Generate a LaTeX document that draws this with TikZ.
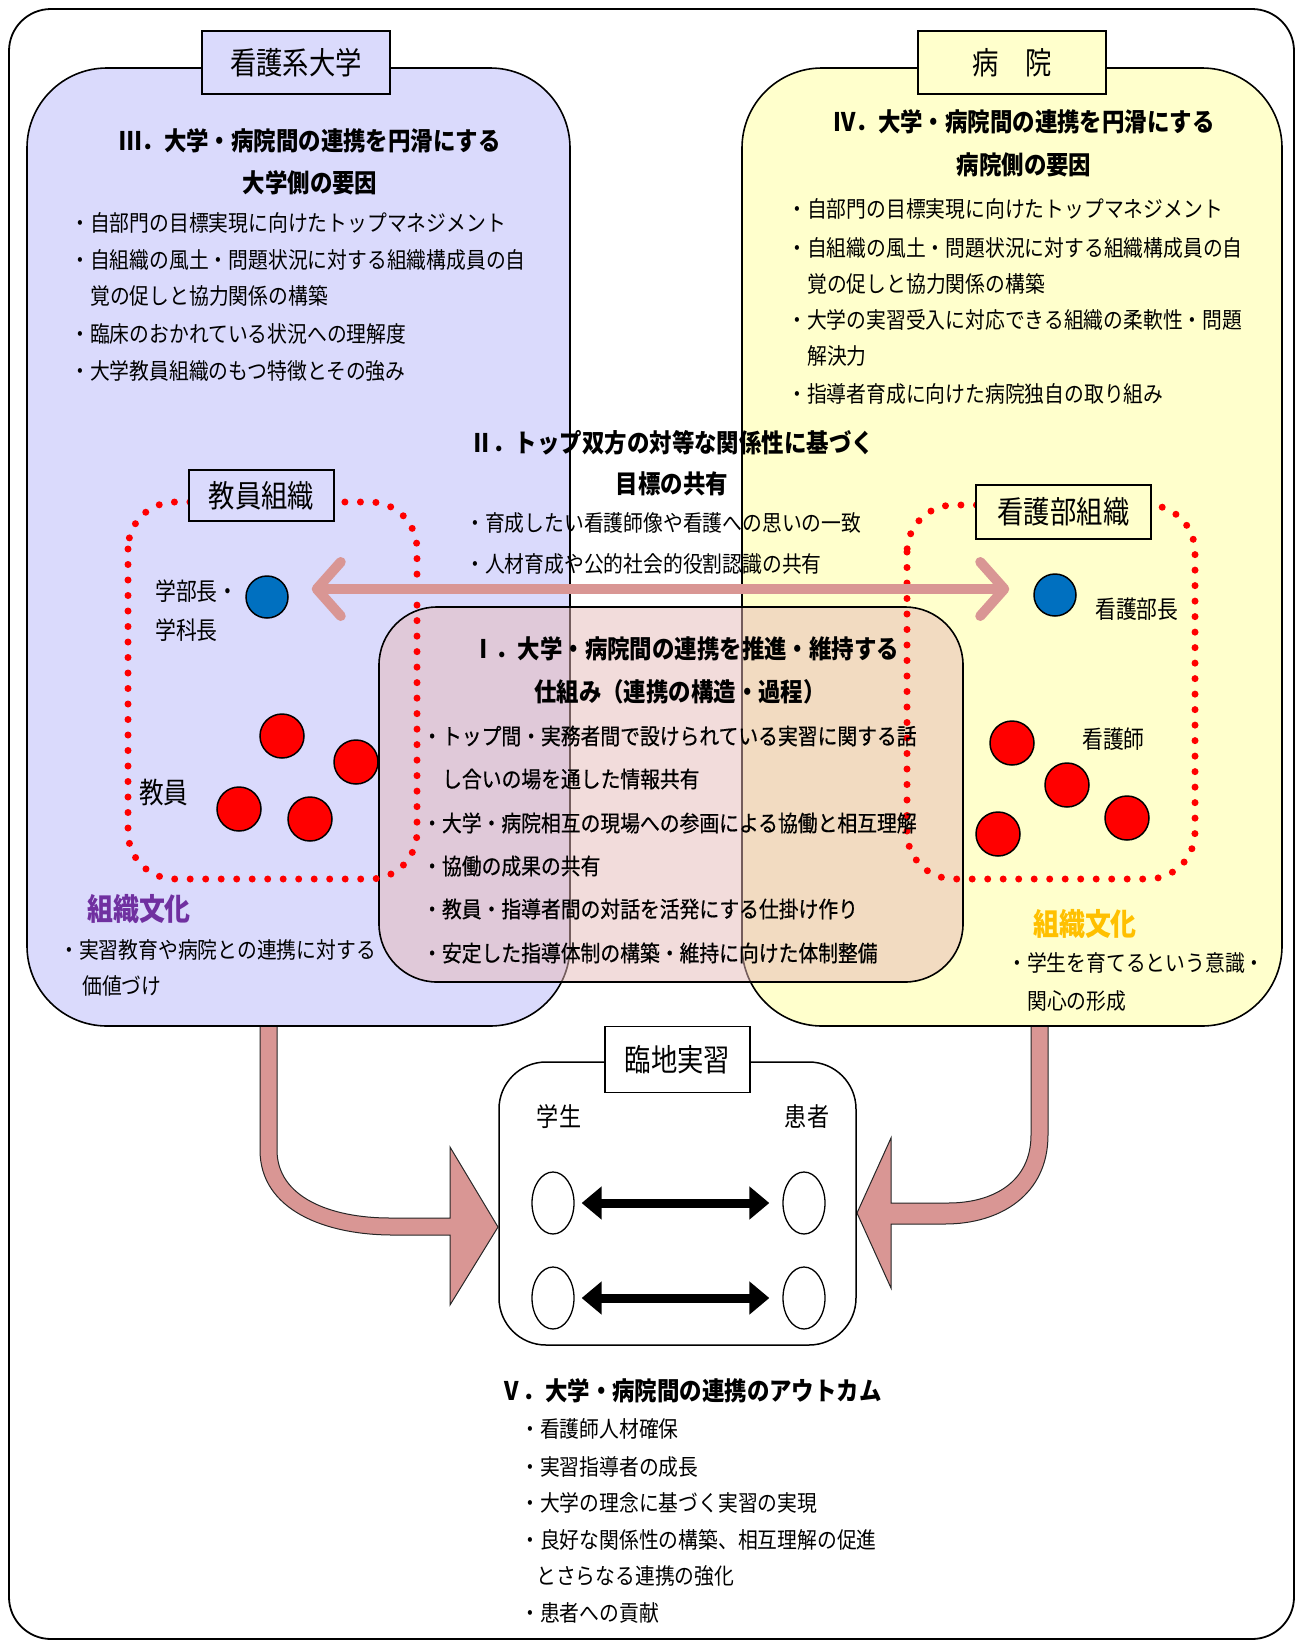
\documentclass[tikz,border=0pt]{standalone}
\usepackage{fontspec}
\newfontfamily\jp[FakeStretch=0.88]{Noto Sans CJK JP}
\newfontfamily\jpt[FakeStretch=0.85]{Noto Sans CJK JP}
\newfontfamily\jpm[FakeStretch=0.88,FakeBold=0.6]{Noto Sans CJK JP}
\usetikzlibrary{arrows.meta,calc,shapes.geometric}
\definecolor{lav}{RGB}{218,218,252}
\definecolor{ylw}{RGB}{255,255,204}
\definecolor{pinkI}{RGB}{230,185,184}
\definecolor{pinkA}{RGB}{217,150,148}
\definecolor{purp}{RGB}{112,48,160}
\definecolor{gold}{RGB}{255,192,0}
\definecolor{blueC}{RGB}{0,112,192}
\begin{document}
\begin{tikzpicture}[x=1pt,y=-1pt,
  body/.style={inner sep=0pt, anchor=west, font=\jp\fontsize{22.5pt}{22.5pt}\selectfont},
  bodym/.style={inner sep=0pt, anchor=west, font=\jpm\fontsize{22.5pt}{22.5pt}\selectfont},
  head/.style={inner sep=0pt, font=\jp\bfseries\fontsize{25.5pt}{25.5pt}\selectfont},
  titlebox/.style={draw, line width=1.6pt, inner sep=0pt, font=\jpt\fontsize{31pt}{31pt}\selectfont},
  lbl/.style={inner sep=0pt, font=\jpt\fontsize{24.5pt}{24.5pt}\selectfont},
  culture/.style={inner sep=0pt, anchor=west, font=\jpt\bfseries\fontsize{30.5pt}{30.5pt}\selectfont},
  dotline/.style={draw=red, line width=7pt, line cap=round, dash pattern=on 0pt off 15.5pt},
  bluedot/.style={circle, draw, line width=1.5pt, fill=blueC, minimum size=42pt, inner sep=0pt},
  reddot/.style={circle, draw, line width=1.5pt, fill=red, minimum size=44pt, inner sep=0pt},
  oval/.style={ellipse, draw, line width=1.3pt, fill=white, minimum width=42pt, minimum height=62pt, inner sep=0pt},
  bentarrow/.style={fill=pinkA, draw=black!85, line width=1pt, line join=miter},
]
\useasboundingbox (0,0) rectangle (1297,1641);

% outer frame
\draw[line width=1.8pt, rounded corners=42pt] (9,9) rectangle (1294,1639);

% bent arrows (behind the boxes)
\path[bentarrow] (260,1015) -- (260,1150) .. controls (260,1210) and (325,1235) .. (393,1235)
  -- (450,1235) -- (450,1305) -- (498,1227) -- (450,1147) -- (450,1218) -- (390,1218)
  .. controls (330,1218) and (277,1197) .. (277,1150) -- (277,1015) -- cycle;
\path[bentarrow] (1048,1015) -- (1048,1135) .. controls (1048,1195) and (1000,1224) .. (945,1224)
  -- (891,1224) -- (891,1288) -- (857,1213) -- (891,1138) -- (891,1203) -- (948,1203)
  .. controls (993,1203) and (1031,1182) .. (1031,1135) -- (1031,1015) -- cycle;

% big boxes
\draw[fill=lav, line width=1.6pt, rounded corners=80pt] (27,68) rectangle (570,1026);
\draw[fill=ylw, line width=1.6pt, rounded corners=80pt] (742,68) rectangle (1282,1026);
\node[titlebox, fill=lav, minimum width=188pt, minimum height=63pt] (tuniv) at (296,62.5) {看護系大学};
\node[titlebox, fill=ylw, minimum width=188pt, minimum height=63pt] (thosp) at (1012,62.5) {病　院};

% central box I
\draw[fill=pinkI, fill opacity=0.5, line width=1.6pt, rounded corners=58pt] (379,607) rectangle (963,982);

% dotted organisation frames
\draw[dotline, rounded corners=47pt] (128,502) rectangle (417,879);
\draw[dotline, rounded corners=47pt] (907,505) rectangle (1195,879);
\node[titlebox, line width=1.4pt, fill=lav, minimum width=145pt, minimum height=51pt] (tfac) at (261.5,495.5) {教員組織};
\node[titlebox, line width=1.4pt, fill=ylw, minimum width=175pt, minimum height=54pt] (tnurse) at (1063.5,512) {看護部組織};

% circles
\node[bluedot] (bl) at (267,597) {};
\node[bluedot] (br) at (1055,595) {};
\node[reddot] (rl1) at (282,736) {};
\node[reddot] (rl2) at (356,762) {};
\node[reddot] (rl3) at (239,809) {};
\node[reddot] (rl4) at (310,819) {};
\node[reddot] (rr1) at (1012,743) {};
\node[reddot] (rr2) at (1067,785) {};
\node[reddot] (rr3) at (998,834) {};
\node[reddot] (rr4) at (1127,818) {};

% pink double arrow between the tops
\draw[pinkA, line width=10pt,
  {Straight Barb[length=24pt,width=54pt,round]}-{Straight Barb[length=24pt,width=54pt,round]},
  shorten <=23pt, shorten >=24pt]
  ([yshift=8pt]bl.east) -- ([yshift=8pt]bl.east -| br.west);

% circle labels
\node[lbl, anchor=west] (ldean1) at (155,591) {学部長・};
\node[lbl, anchor=west] (ldean2) at (155,630) {学科長};
\node[lbl, anchor=west, font=\jpt\fontsize{29pt}{29pt}\selectfont] (lfac) at (139,793) {教員};
\node[lbl, anchor=west] (lhead) at (1095,609) {看護部長};
\node[lbl, anchor=west] (lnurse) at (1082,739) {看護師};

% III
\node[head] (h3a) at (310,141) {Ⅲ．大学・病院間の連携を円滑にする};
\node[head] (h3b) at (310,183) {大学側の要因};
\node[body] (b3a) at (70,223) {・自部門の目標実現に向けたトップマネジメント};
\node[body] (b3b) at (70,260) {・自組織の風土・問題状況に対する組織構成員の自};
\node[body] (b3c) at (90,296) {覚の促しと協力関係の構築};
\node[body] (b3d) at (70,334) {・臨床のおかれている状況への理解度};
\node[body] (b3e) at (70,371) {・大学教員組織のもつ特徴とその強み};

% IV
\node[head] (h4a) at (1024,122) {Ⅳ．大学・病院間の連携を円滑にする};
\node[head] (h4b) at (1024,165) {病院側の要因};
\node[body] (b4a) at (787,209) {・自部門の目標実現に向けたトップマネジメント};
\node[body] (b4b) at (787,248) {・自組織の風土・問題状況に対する組織構成員の自};
\node[body] (b4c) at (807,284) {覚の促しと協力関係の構築};
\node[body] (b4d) at (787,320) {・大学の実習受入に対応できる組織の柔軟性・問題};
\node[body] (b4e) at (807,356) {解決力};
\node[body] (b4f) at (787,394) {・指導者育成に向けた病院独自の取り組み};

% II
\node[head] (h2a) at (672,443) {Ⅱ．トップ双方の対等な関係性に基づく};
\node[head] (h2b) at (672,484) {目標の共有};
\node[body] (b2a) at (465,523) {・育成したい看護師像や看護への思いの一致};
\node[body] (b2b) at (465,564) {・人材育成や公的社会的役割認識の共有};

% I
\node[head] (h1a) at (686,649) {Ⅰ．大学・病院間の連携を推進・維持する};
\node[head] (h1b) at (680,692) {仕組み（連携の構造・過程）};
\node[bodym] (b1a) at (422,736) {・トップ間・実務者間で設けられている実習に関する話};
\node[bodym] (b1b) at (442,779) {し合いの場を通した情報共有};
\node[bodym] (b1c) at (422,823) {・大学・病院相互の現場への参画による協働と相互理解};
\node[bodym] (b1d) at (422,866) {・協働の成果の共有};
\node[bodym] (b1e) at (422,909) {・教員・指導者間の対話を活発にする仕掛け作り};
\node[bodym] (b1f) at (422,953) {・安定した指導体制の構築・維持に向けた体制整備};

% organisational culture
\node[culture, text=purp] (cul1) at (87,909) {組織文化};
\node[body] (cul1a) at (59,950) {・実習教育や病院との連携に対する};
\node[body] (cul1b) at (82,986) {価値づけ};
\node[culture, text=gold] (cul2) at (1033,924) {組織文化};
\node[body] (cul2a) at (1007,963) {・学生を育てるという意識・};
\node[body] (cul2b) at (1027,1001) {関心の形成};

% clinical practice
\draw[line width=1.5pt, fill=white, rounded corners=47pt] (499,1062) rectangle (856,1345);
\node[titlebox, fill=white, minimum width=145pt, minimum height=66pt] (tprac) at (677.5,1059.5) {臨地実習};
\node[lbl, font=\jpt\fontsize{26pt}{26pt}\selectfont] (lstu) at (559,1117) {学生};
\node[lbl, font=\jpt\fontsize{26pt}{26pt}\selectfont] (lpat) at (807,1117) {患者};
\node[oval] (s1) at (553,1203) {};
\node[oval] (s2) at (553,1298) {};
\node[oval] (p1) at (804,1203) {};
\node[oval] (p2) at (804,1298) {};
\draw[line width=9pt, {Triangle[length=20pt,width=32pt]}-{Triangle[length=20pt,width=32pt]},
  shorten <=7pt, shorten >=13pt] (s1) -- (p1);
\draw[line width=9pt, {Triangle[length=20pt,width=32pt]}-{Triangle[length=20pt,width=32pt]},
  shorten <=7pt, shorten >=13pt] (s2) -- (p2);

% V
\node[head] (h5) at (691,1391) {Ⅴ．大学・病院間の連携のアウトカム};
\node[body] (b5a) at (520,1429) {・看護師人材確保};
\node[body] (b5b) at (520,1467) {・実習指導者の成長};
\node[body] (b5c) at (520,1503) {・大学の理念に基づく実習の実現};
\node[body] (b5d) at (520,1540) {・良好な関係性の構築、相互理解の促進};
\node[body] (b5e) at (536,1576) {とさらなる連携の強化};
\node[body] (b5f) at (520,1613) {・患者への貢献};
\end{tikzpicture}
\end{document}
